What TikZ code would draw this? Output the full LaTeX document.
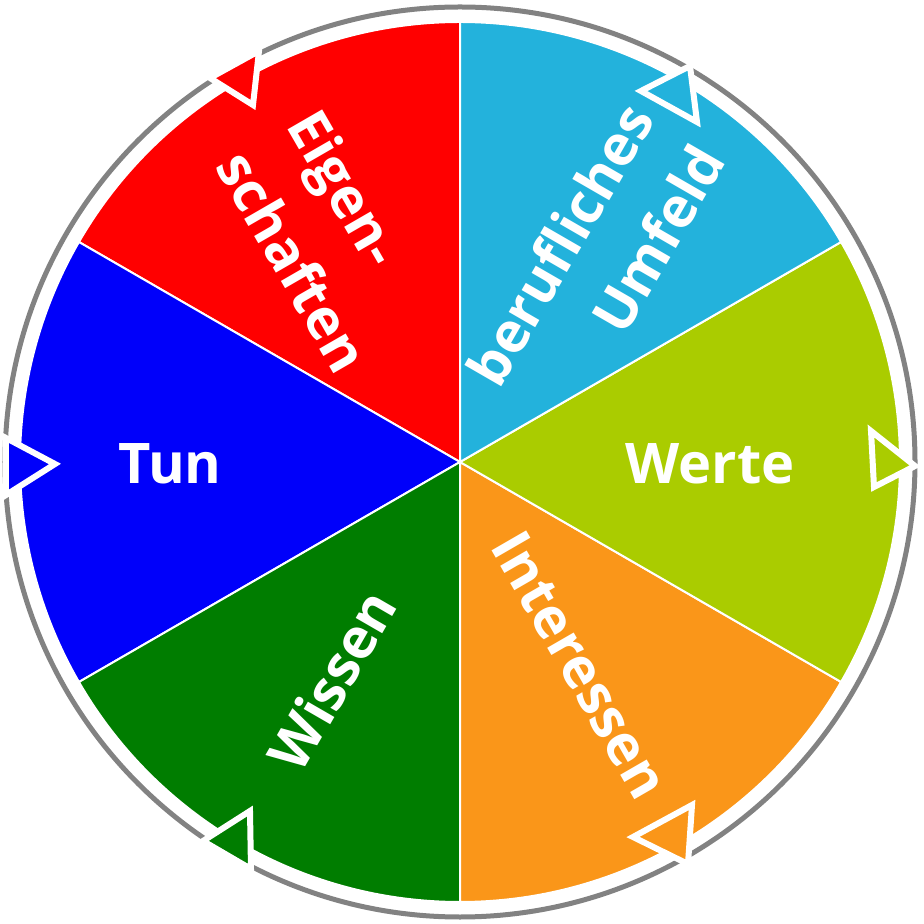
\documentclass[tikz,border=0pt]{standalone}
\usepackage{fontspec}
\setmainfont{Open Sans}
\usepackage{xcolor}

\definecolor{segred}{RGB}{255,0,0}
\definecolor{segblue}{RGB}{0,0,250}
\definecolor{seggreen}{RGB}{0,125,0}
\definecolor{segorange}{RGB}{250,150,25}
\definecolor{seglime}{RGB}{170,204,0}
\definecolor{segcyan}{RGB}{35,178,220}
\definecolor{ringgrey}{RGB}{130,130,130}

\begin{document}
\begin{tikzpicture}[
  x=0.5pt, y=0.5pt,
  sector/.style={draw=white, line width=1pt},
  ring/.style={draw=ringgrey, line width=2.5pt},
  arrowtri/.style={draw=white, line width=3pt, line join=miter},
  wordlabel/.style={text=white, inner sep=0pt, font=\fontsize{28}{41}\selectfont\bfseries},
]
\useasboundingbox (-460,-462) rectangle (464,462);
\coordinate (c) at (0,0);
\draw[ring] (c) circle (455);
% the six sectors
\foreach \a/\col in {90/segred, 150/segblue, 210/seggreen, 270/segorange, 330/seglime, 30/segcyan}
  \fill[\col, sector] (c) -- ++(\a:440) arc[start angle=\a, end angle=\a+60, radius=440] -- cycle;
% arrow heads on the ring
\draw[arrowtri, fill=segred] (-250,384) -- (-201,411) -- (-207,357) -- cycle;
\draw[arrowtri, fill=segcyan] (181,371) -- (230,396) -- (237,340) -- cycle;
\draw[arrowtri, fill=segblue] (-405,-2) -- (-454,24) -- (-454,-33) -- cycle;
\draw[arrowtri, fill=seglime] (455,-4) -- (411,31) -- (414,-25) -- cycle;
\draw[arrowtri, fill=seggreen] (-257,-379) -- (-210,-349) -- (-209,-407) -- cycle;
\draw[arrowtri, fill=segorange] (173,-375) -- (232,-343) -- (228,-402) -- cycle;
% labels
\node[wordlabel] (tun) at (-290,-2) {Tun};
\node[wordlabel] (werte) at (250,-2) {Werte};
\node[wordlabel, rotate=-60, align=left] (eigen) at (-131,221) {Eigen-\\schaften};
\node[wordlabel, rotate=60, align=right] (beruf) at (135,197) {berufliches\\Umfeld};
\node[wordlabel, rotate=-60] (interessen) at (120,-203) {Interessen};
\node[wordlabel, rotate=60] (wissen) at (-128,-218) {Wissen};
\end{tikzpicture}
\end{document}
